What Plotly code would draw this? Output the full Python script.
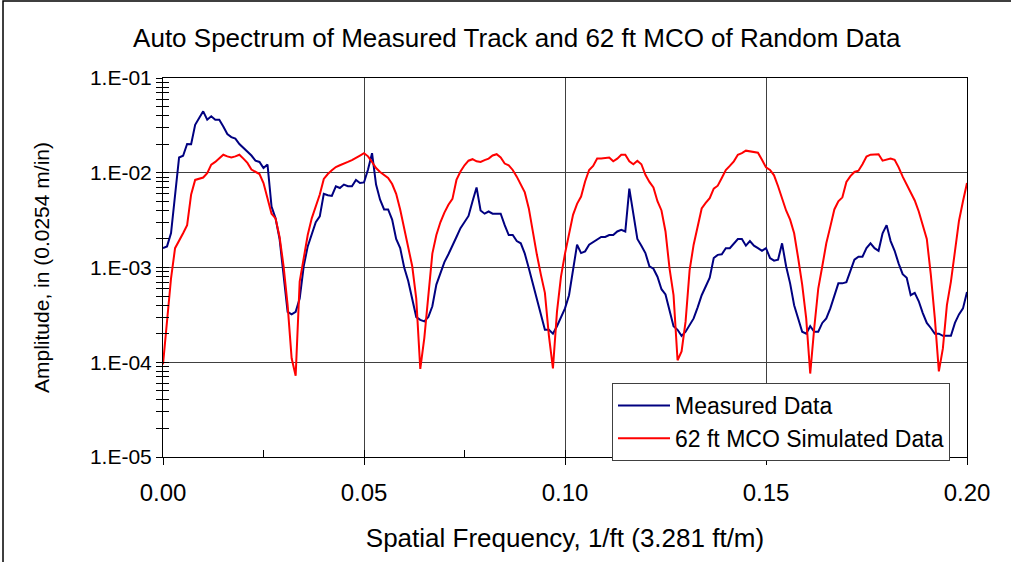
import plotly.graph_objects as go

# Spatial frequency grid, 1/ft
freq = [round(i * 0.001, 3) for i in range(201)]

# Auto spectrum of the measured track, in
measured = [
    0.00160, 0.00167, 0.00231, 0.0055, 0.0145, 0.0151, 0.0201, 0.0200, 0.0321, 0.0378,
    0.0445, 0.0363, 0.0394, 0.0363, 0.0363, 0.0308, 0.0256, 0.0238, 0.0229, 0.0201,
    0.0182, 0.0168, 0.0152, 0.0134, 0.0130, 0.0112, 0.0122, 0.0044, 0.0033, 0.0020,
    0.00084, 0.00034, 0.00032, 0.00034, 0.00047, 0.00103, 0.00167, 0.00231, 0.0030, 0.00346,
    0.0060, 0.0058, 0.0057, 0.0072, 0.0069, 0.0075, 0.0072, 0.0072, 0.0084, 0.0078,
    0.0079, 0.0108, 0.0161, 0.0075, 0.0052, 0.0041, 0.0041, 0.0032, 0.0020, 0.0016,
    0.0010, 0.00072, 0.00047, 0.00030, 0.00028, 0.00027, 0.00030, 0.00039, 0.00066, 0.00087,
    0.00114, 0.00138, 0.00167, 0.0021, 0.0026, 0.0030, 0.0035, 0.0050, 0.0070, 0.0040,
    0.0037, 0.0039, 0.0037, 0.0037, 0.0037, 0.0028, 0.0022, 0.0022, 0.0019, 0.0018,
    0.0014, 0.00098, 0.00067, 0.00044, 0.00032, 0.00022, 0.00022, 0.00020, 0.00024, 0.00030,
    0.00037, 0.00051, 0.00094, 0.00174, 0.00142, 0.00148, 0.00174, 0.00185, 0.0020, 0.0021,
    0.0021, 0.0022, 0.0022, 0.0024, 0.0025, 0.0024, 0.0068, 0.0035, 0.0020, 0.0017,
    0.00142, 0.00103, 0.00097, 0.00080, 0.00059, 0.00052, 0.00034, 0.00024, 0.00022, 0.00019,
    0.00021, 0.00025, 0.00029, 0.00038, 0.00051, 0.00063, 0.00078, 0.00126, 0.00136, 0.00138,
    0.0016, 0.0016, 0.0018, 0.0020, 0.0020, 0.0017, 0.0019, 0.0017, 0.0016, 0.0015,
    0.0016, 0.00126, 0.00118, 0.00121, 0.0018, 0.00103, 0.00068, 0.00040, 0.00029, 0.00021,
    0.00020, 0.00024, 0.00021, 0.00021, 0.00026, 0.00029, 0.00037, 0.00051, 0.00068, 0.00068,
    0.00070, 0.00092, 0.00121, 0.0013, 0.0013, 0.0016, 0.0018, 0.0016, 0.0015, 0.0023,
    0.0028, 0.0019, 0.0015, 0.0011, 0.00085, 0.00078, 0.00051, 0.00054, 0.00044, 0.00033,
    0.00026, 0.00023, 0.00020, 0.00020, 0.00019, 0.00019, 0.00019, 0.00026, 0.00032, 0.00037,
    0.00055,
]

# Auto spectrum of the 62 ft MCO simulated data, in
simulated = [
    0.000095, 0.00029, 0.00077, 0.0016, 0.0019, 0.0023, 0.0028, 0.0059, 0.0084, 0.0086,
    0.0089, 0.0099, 0.0122, 0.0130, 0.0141, 0.0155, 0.0149, 0.0145, 0.0149, 0.0155,
    0.0141, 0.0127, 0.0108, 0.0102, 0.0097, 0.0078, 0.0052, 0.0037, 0.0033, 0.0021,
    0.00103, 0.00040, 0.00011, 0.000072, 0.00071, 0.0013, 0.0022, 0.0033, 0.0043, 0.0059,
    0.0086, 0.0097, 0.0106, 0.0115, 0.0120, 0.0124, 0.0130, 0.0136, 0.0145, 0.0152,
    0.0161, 0.0149, 0.0130, 0.0112, 0.0102, 0.0094, 0.0088, 0.0076, 0.0060, 0.0041,
    0.0026, 0.0016, 0.00103, 0.00047, 0.000085, 0.00018, 0.00055, 0.0014, 0.0022, 0.0030,
    0.0038, 0.0046, 0.0053, 0.0084, 0.0103, 0.0120, 0.0134, 0.0139, 0.0132, 0.0130,
    0.0136, 0.0141, 0.0152, 0.0157, 0.0145, 0.0125, 0.0120, 0.0107, 0.0091, 0.0075,
    0.0062, 0.0042, 0.0023, 0.00137, 0.00084, 0.00054, 0.00019, 0.000086, 0.00034, 0.00080,
    0.0014, 0.0023, 0.0036, 0.0047, 0.0056, 0.0081, 0.0107, 0.0118, 0.0141, 0.0141,
    0.0143, 0.0145, 0.0132, 0.0141, 0.0155, 0.0155, 0.0132, 0.0123, 0.0134, 0.0123,
    0.0095, 0.0080, 0.0070, 0.0050, 0.0040, 0.0024, 0.00098, 0.00051, 0.000105, 0.00013,
    0.00027, 0.00094, 0.00174, 0.0027, 0.0042, 0.0048, 0.0054, 0.0068, 0.0073, 0.0088,
    0.0107, 0.0118, 0.0132, 0.0155, 0.0161, 0.0171, 0.0168, 0.0165, 0.0163, 0.0137,
    0.0114, 0.0107, 0.0094, 0.0072, 0.0054, 0.0040, 0.0032, 0.0023, 0.00126, 0.00066,
    0.00029, 0.000076, 0.00023, 0.00060, 0.00103, 0.0018, 0.0027, 0.0041, 0.0050, 0.0055,
    0.0080, 0.0092, 0.0102, 0.0105, 0.0123, 0.0148, 0.0155, 0.0157, 0.0157, 0.0134,
    0.0137, 0.0141, 0.0137, 0.0114, 0.0091, 0.0075, 0.0062, 0.0051, 0.0039, 0.0028,
    0.0020, 0.00084, 0.00029, 0.000080, 0.00014, 0.00040, 0.00071, 0.00148, 0.0031, 0.0050,
    0.0078,
]

# Axis ticks
x_tick_vals = [0.0, 0.05, 0.10, 0.15, 0.20]
x_tick_text = ["0.00", "0.05", "0.10", "0.15", "0.20"]
x_minor_vals = [0.0, 0.025, 0.05, 0.075, 0.10, 0.125, 0.15, 0.175, 0.20]
y_tick_vals = [1e-5, 1e-4, 1e-3, 1e-2, 1e-1]
y_tick_text = ["1.E-05", "1.E-04", "1.E-03", "1.E-02", "1.E-01"]
y_minor_vals = [m * 10.0 ** e for e in range(-5, -1) for m in range(1, 10)] + [1e-1]

FONT = "Liberation Sans, Arial, sans-serif"

fig = go.Figure()
fig.add_trace(go.Scatter(
    x=freq, y=measured, mode="lines", name="Measured Data",
    line=dict(color="#000080", width=2),
))
fig.add_trace(go.Scatter(
    x=freq, y=simulated, mode="lines", name="62 ft MCO Simulated Data",
    line=dict(color="#FF0000", width=2),
))
# empty trace that carries the overlay axes used for crossing tick marks
fig.add_trace(go.Scatter(x=[None], y=[None], xaxis="x2", yaxis="y2",
                         showlegend=False, hoverinfo="skip"))

fig.update_layout(
    width=1011, height=562,
    margin=dict(l=163, r=44, t=78, b=105),
    paper_bgcolor="white", plot_bgcolor="white",
    font=dict(family=FONT, color="black", size=20),
    title=dict(
        text="Auto Spectrum of Measured Track and 62 ft MCO of Random Data",
        x=0.44, xref="paper", xanchor="center",
        y=1 - 38 / 562, yref="container", yanchor="middle",
        font=dict(size=26, family=FONT),
    ),
    xaxis=dict(
        range=[0, 0.2], tickvals=x_tick_vals, ticktext=x_tick_text,
        ticks="outside", ticklen=7, tickcolor="black", tickwidth=1,
        showgrid=True, gridcolor="#404040", gridwidth=1,
        showline=True, linecolor="black", linewidth=1, mirror=True,
        zeroline=False, tickfont=dict(size=24), ticklabelstandoff=7,
        title=dict(text="Spatial Frequency, 1/ft (3.281 ft/m)",
                   font=dict(size=26), standoff=24),
    ),
    xaxis2=dict(
        range=[0, 0.2], overlaying="x", anchor="y", side="bottom",
        tickvals=x_minor_vals, ticks="inside", ticklen=7, tickcolor="black",
        showticklabels=False, showgrid=False, showline=False, zeroline=False,
    ),
    yaxis=dict(
        type="log", range=[-5, -1], tickvals=y_tick_vals, ticktext=y_tick_text,
        ticks="outside", ticklen=6, tickcolor="black",
        minor=dict(tickvals=y_minor_vals, ticks="outside", ticklen=6,
                   tickcolor="black", showgrid=False),
        showgrid=True, gridcolor="#404040", gridwidth=1,
        showline=True, linecolor="black", linewidth=1, mirror=True,
        zeroline=False, tickfont=dict(size=21),
        title=dict(text="Amplitude, in (0.0254 m/in)", font=dict(size=21),
                   standoff=34),
    ),
    yaxis2=dict(
        type="log", range=[-5, -1], overlaying="y", anchor="x", side="left",
        tickvals=y_minor_vals, ticks="inside", ticklen=6, tickcolor="black",
        showticklabels=False, showgrid=False, showline=False, zeroline=False,
    ),
    legend=dict(
        x=(612 - 163) / 804, y=(457 - 383) / 379, xanchor="left", yanchor="top",
        bgcolor="white", bordercolor="#404040", borderwidth=1,
        font=dict(size=23, family=FONT), tracegroupgap=0, itemwidth=52,
    ),
    showlegend=True,
)

# outer chart frame
fig.add_shape(type="path", xref="paper", yref="paper",
              path="M -0.199 -0.3 L -0.199 1.2032 L 1.06 1.2032",
              line=dict(color="black", width=1.5))

fig.write_html("out.html")
